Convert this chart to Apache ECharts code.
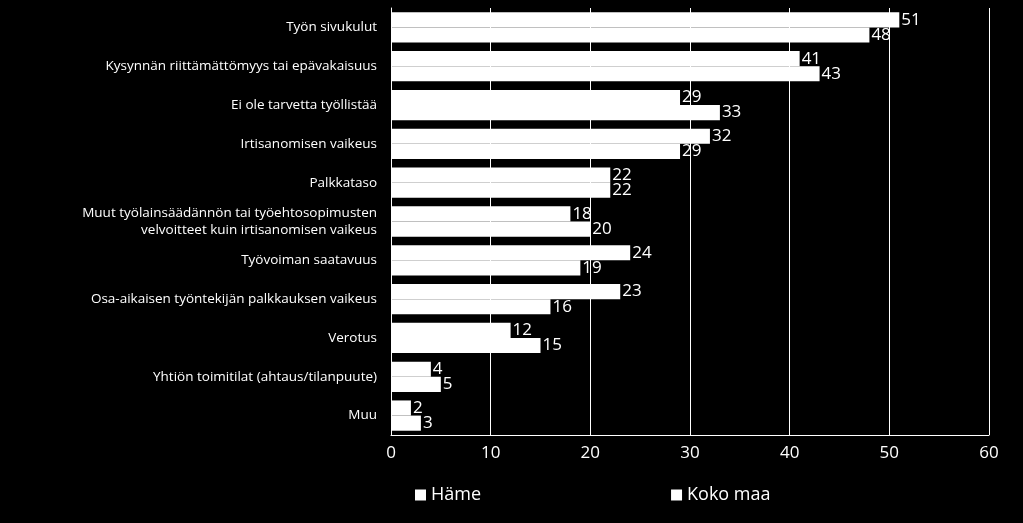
<!DOCTYPE html>
<html>
<head>
<meta charset="utf-8">
<script src="https://cdn.jsdelivr.net/npm/echarts@6/dist/echarts.min.js"></script>
<style>
  body { margin:0; background:#000; }
  #main { width:1023px; height:523px; }
</style>
</head>
<body>
<div id="main"></div>
<script>
var categories = ['Työn sivukulut', 'Kysynnän riittämättömyys tai epävakaisuus', 'Ei ole tarvetta työllistää',
  'Irtisanomisen vaikeus', 'Palkkataso', 'Muut työlainsäädännön tai työehtosopimusten\nvelvoitteet kuin irtisanomisen vaikeus',
  'Työvoiman saatavuus', 'Osa-aikaisen työntekijän palkkauksen vaikeus', 'Verotus',
  'Yhtiön toimitilat (ahtaus/tilanpuute)', 'Muu'];
var hame = [51, 41, 29, 32, 22, 18, 24, 23, 12, 4, 2];
var kokoMaa = [48, 43, 33, 29, 22, 20, 19, 16, 15, 5, 3];

var chart = echarts.init(document.getElementById('main'));
var lbl = { show:true, position:'right', color:'#fff', fontSize:17, fontFamily:'Open Sans', distance:2 };
chart.setOption({
  backgroundColor:'#000',
  textStyle:{ fontFamily:'Open Sans' },
  grid:{ left:391, right:34, top:8, bottom:88 },
  legend:{
    bottom:14, left:410, itemGap:190, itemWidth:11, itemHeight:11, icon:'rect',
    textStyle:{ color:'#fff', fontSize:18 },
    data:['Häme', 'Koko maa']
  },
  xAxis:{
    type:'value', min:0, max:60, interval:10,
    axisLabel:{ color:'#fff', fontSize:17, margin:10 },
    splitLine:{ lineStyle:{ color:'#fff', width:1 } },
    axisLine:{ show:true, lineStyle:{ color:'#fff' } }
  },
  yAxis:{
    type:'category', inverse:true, data:categories,
    axisTick:{ show:false },
    axisLine:{ lineStyle:{ color:'#fff' } },
    axisLabel:{ color:'#fff', fontSize:13.5, margin:14, lineHeight:17 }
  },
  series:[
    { name:'Häme', type:'bar', data:hame, barGap:'0%', barCategoryGap:'22%',
      itemStyle:{ color:'#fff' }, label:Object.assign({}, lbl) },
    { name:'Koko maa', type:'bar', data:kokoMaa,
      itemStyle:{ color:'#fff' }, label:Object.assign({}, lbl) }
  ]
});
</script>
</body>
</html>
